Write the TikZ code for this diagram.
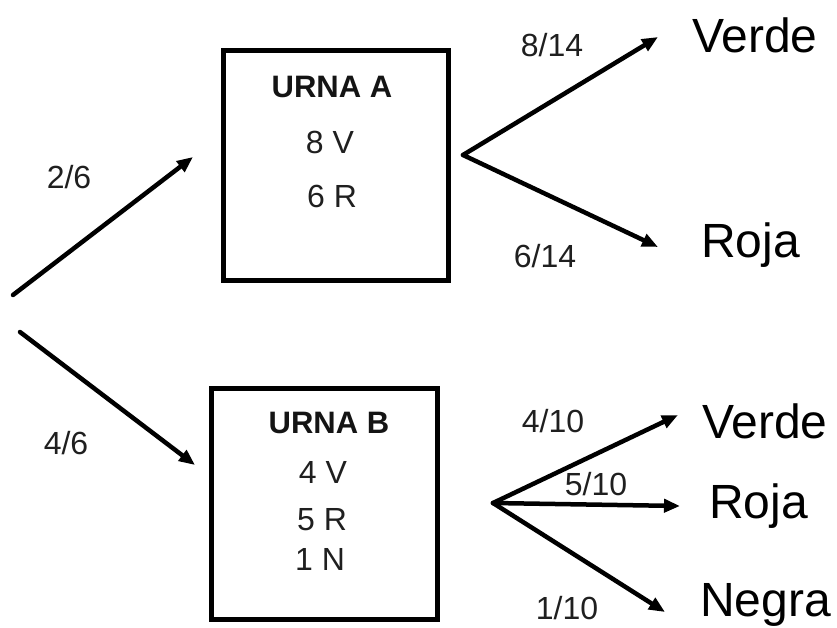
\documentclass[tikz,border=0pt]{standalone}
\usepackage{fontspec}
\setmainfont{Liberation Sans}
\usetikzlibrary{arrows.meta}
\begin{document}
\begin{tikzpicture}[x=1pt,y=-1pt,
  urn/.style={draw=black,line width=5pt,inner sep=0pt,minimum width=#1},
  small/.style={inner sep=0pt,anchor=base,text=black!88,font=\fontsize{32}{38}\selectfont},
  title/.style={inner sep=0pt,anchor=base,text=black!92,font=\bfseries\fontsize{31}{37}\selectfont},
  big/.style={inner sep=0pt,anchor=base west,text=black,font=\fontsize{48}{56}\selectfont},
  branch/.style={line width=4.5pt,line cap=round,-{Triangle[length=16pt,width=13pt]}}]
\useasboundingbox (0,0) rectangle (837,628);
% boxes
\node[urn=225pt,minimum height=229pt] (boxA) at (335.5,165.5) {};
\node[urn=226pt,minimum height=231pt] (boxB) at (324,503.5) {};
% box texts
\node[title] (ua) at (332,98) {URNA A};
\node[small] (av) at (330,154) {8 V};
\node[small] (ar) at (332,208) {6 R};
\node[title] (ub) at (329,433) {URNA B};
\node[small] (bv) at (323,483) {4 V};
\node[small] (br) at (322,530) {5 R};
\node[small] (bn) at (320,570) {1 N};
% coordinates
\coordinate (r1) at (13,295);
\coordinate (inA) at (193,157);
\coordinate (r2) at (20,332);
\coordinate (inB) at (195,465);
\coordinate (fA) at (463,155);
\coordinate (tAV) at (658,37);
\coordinate (tAR) at (658,247);
\coordinate (fB) at (493,503);
\coordinate (tBV) at (678,415);
\coordinate (tBR) at (680,506);
\coordinate (tBN) at (665,612);
% arrows
\draw[branch] (r1) -- (inA);
\draw[branch] (r2) -- (inB);
\draw[branch] (fA) -- (tAV);
\draw[branch] (fA) -- (tAR);
\draw[branch] (fB) -- (tBV);
\draw[branch] (fB) -- (tBR);
\draw[branch] (fB) -- (tBN);
% probabilities
\node[small] (p26) at (69,189) {2/6};
\node[small] (p46) at (66,454) {4/6};
\node[small] (p814) at (552,57) {8/14};
\node[small] (p614) at (545,267) {6/14};
\node[small] (p410) at (553,432) {4/10};
\node[small] (p510) at (596,495) {5/10};
\node[small] (p110) at (567,619) {1/10};
% outcomes
\node[big] (oAV) at (692,53) {Verde};
\node[big] (oAR) at (701,258) {Roja};
\node[big] (oBV) at (702,438) {Verde};
\node[big] (oBR) at (709,518) {Roja};
\node[big] (oBN) at (700,616) {Negra};
\end{tikzpicture}
\end{document}
